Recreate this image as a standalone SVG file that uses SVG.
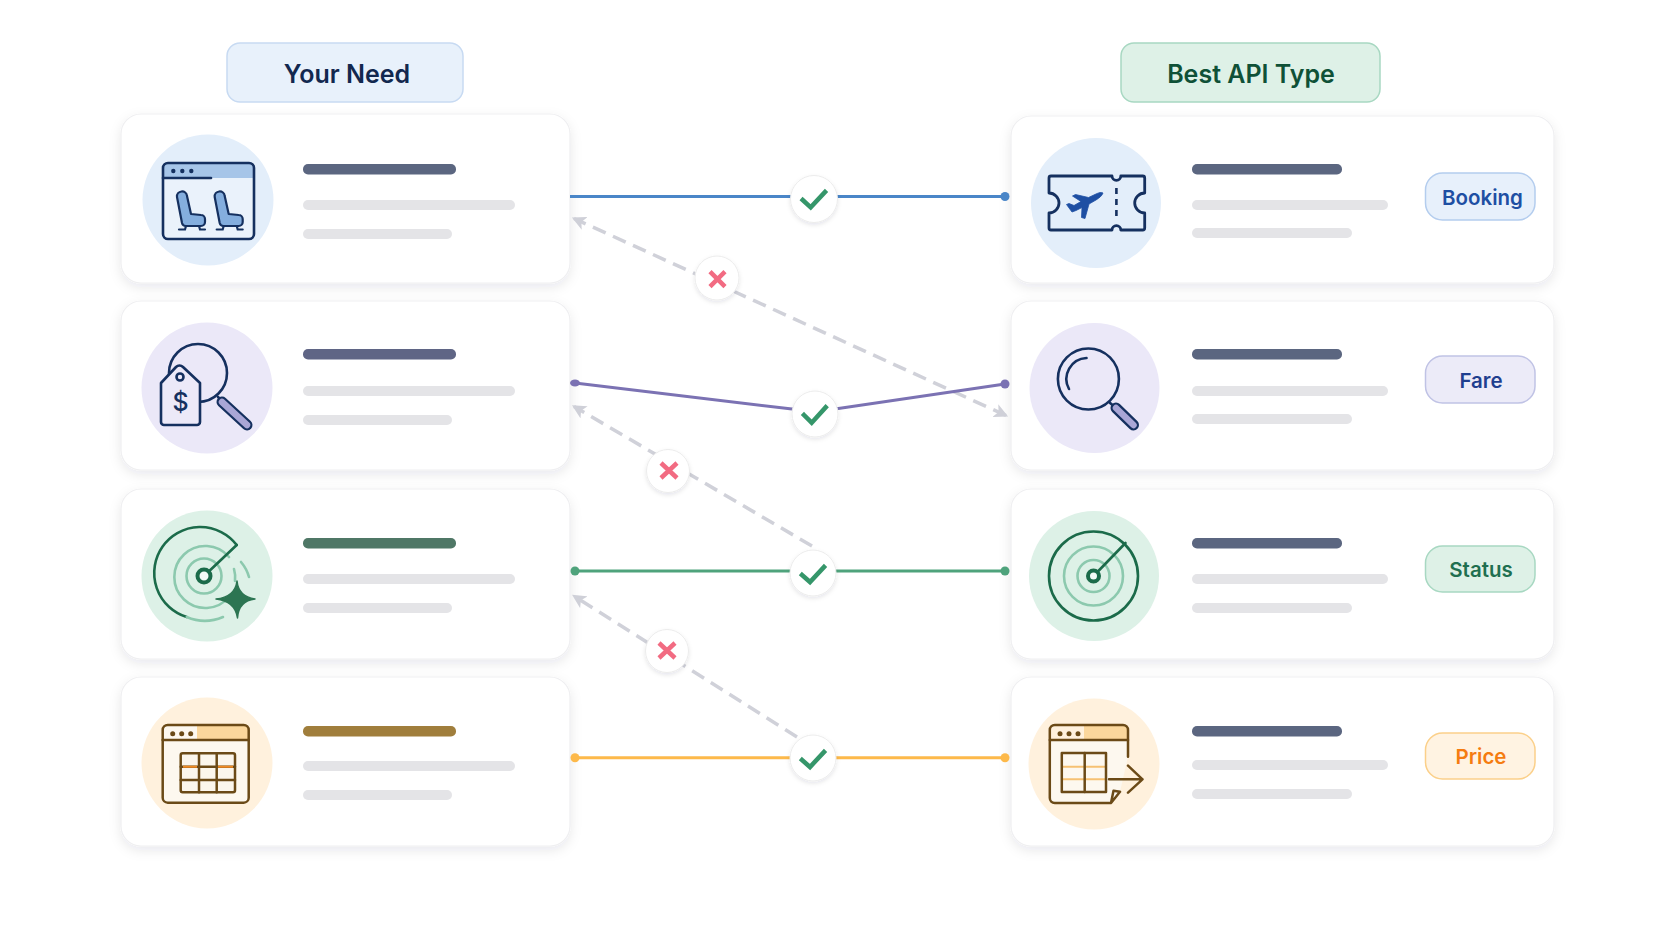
<svg xmlns="http://www.w3.org/2000/svg" width="1672" height="941" viewBox="0 0 1672 941">
<style>
text{font-family:"Inter","Liberation Sans",sans-serif;font-weight:600;text-anchor:middle}
.card{fill:#fff;stroke:#efeff1;stroke-width:1.2;filter:url(#sh)}
.hd{font-size:25px}
.bd{font-size:20.5px}
.dk{fill:#5b6680}.lt{fill:#e4e4e7}
.ln{fill:none;stroke:#15305f;stroke-width:2.6;stroke-linecap:round;stroke-linejoin:round}
.gr{fill:none;stroke:#1b6b4a;stroke-width:2.6;stroke-linecap:round}
.lg{fill:none;stroke:#8cc9ae;stroke-width:2.6;stroke-linecap:round}
.br{fill:none;stroke:#6b4a17;stroke-width:2.5;stroke-linecap:round;stroke-linejoin:round}
.dash{fill:none;stroke:#d0d1d9;stroke-width:3.5;stroke-dasharray:14 8}
.conn{fill:none;stroke-width:3}
.ok{fill:#fff;stroke:#ececec;filter:url(#sm)}
.ck{fill:none;stroke:#35966a;stroke-width:4.5;stroke-linecap:square;stroke-linejoin:miter}
.xx{fill:none;stroke:#f26b82;stroke-width:4.5}
</style>
<defs>
<filter id="sh" x="-10%" y="-15%" width="120%" height="135%"><feDropShadow dx="0" dy="4" stdDeviation="6" flood-color="#1a2440" flood-opacity="0.09"/></filter>
<filter id="sm" x="-30%" y="-30%" width="160%" height="170%"><feDropShadow dx="0" dy="2" stdDeviation="2" flood-color="#1a2440" flood-opacity="0.1"/></filter>
<marker id="ah" markerUnits="userSpaceOnUse" markerWidth="14" markerHeight="14" refX="10" refY="6" orient="auto-start-reverse" viewBox="0 0 12 12"><path d="M0 0L12 6L0 12L3 6z" fill="#cfd0d8"/></marker>
<g id="seat"><path d="M177 197a5 5 0 0 1 10-1L191 214L201 215a4 4 0 0 1 4 4v3a4 4 0 0 1-4 4h-15a4 4 0 0 1-4-3z" fill="#84aede" stroke="#15305f" stroke-width="2.2" stroke-linejoin="round"/><path d="M186 226l-1 3.500h-6M199 226l1 3.500h5" fill="none" stroke="#15305f" stroke-width="2.200" stroke-linecap="round"/></g>
</defs>
<rect width="1672" height="941" fill="#fff"/>

<g id="header-need"><rect x="227" y="43" width="236" height="59" rx="13" fill="#e8f1fb" stroke="#c7daf2" stroke-width="1.500"/><text class="hd" x="347" y="83" fill="#12284f">Your Need</text></g>
<g id="header-api"><rect x="1121" y="43" width="259" height="59" rx="13" fill="#def1e7" stroke="#a8d8c2" stroke-width="1.500"/><text class="hd" x="1251" y="83" fill="#0f5137">Best API Type</text></g>

<g id="need-seats">
<rect class="card" x="121" y="114" width="449" height="169" rx="20"/>
<circle cx="208" cy="200" r="65.500" fill="#e3eefa"/>
<rect x="163" y="163" width="91" height="76" rx="5" fill="#eaf2fb"/>
<path d="M163 178V168a5 5 0 0 1 5-5h81a5 5 0 0 1 5 5v10z" fill="#a6c5e8"/>
<rect class="ln" x="163" y="163" width="91" height="76" rx="5"/>
<path class="ln" d="M163 178H211" stroke-width="2"/>
<g fill="#15305f"><circle cx="173.300" cy="171" r="2.200"/><circle cx="182.300" cy="171" r="2.200"/><circle cx="191.300" cy="171" r="2.200"/></g>
<use href="#seat"/><use href="#seat" x="37.700"/>
<rect class="dk" x="303" y="164" width="153" height="10.500" rx="5"/><rect class="lt" x="303" y="200" width="212" height="10" rx="5"/><rect class="lt" x="303" y="229" width="149" height="10" rx="5"/>
</g>

<g id="need-fare">
<rect class="card" x="121" y="301" width="449" height="169" rx="20"/>
<circle cx="207" cy="388" r="65.500" fill="#ebe8f8"/>
<circle class="ln" cx="198" cy="373" r="29"/>
<path class="ln" d="M218 397L224 403"/>
<path d="M222 402L247 425" stroke="#15305f" stroke-width="11" stroke-linecap="round"/>
<path d="M222 402L247 425" stroke="#a9a6d6" stroke-width="6.500" stroke-linecap="round"/>
<path class="ln" d="M161 383L176 367a5 5 0 0 1 7 0L200 383V422a3 3 0 0 1-3 3H164a3 3 0 0 1-3-3z" style="fill:#ece9f8"/>
<circle class="ln" cx="180" cy="377" r="3.500" stroke-width="2"/>
<text x="180.500" y="411" font-size="25" fill="#15305f" style="font-weight:500">$</text>
<rect x="303" y="349" width="153" height="10.500" rx="5" fill="#5f6585"/><rect class="lt" x="303" y="386" width="212" height="10" rx="5"/><rect class="lt" x="303" y="415" width="149" height="10" rx="5"/>
</g>

<g id="need-status">
<rect class="card" x="121" y="489" width="449" height="170" rx="20"/>
<circle cx="207" cy="576" r="65.500" fill="#ddf1e7"/>
<path class="gr" d="M236.700 545A46 46 0 1 0 186.700 617"/>
<path class="lg" d="M186.700 617A46 46 0 0 0 223 617M241 562A40 40 0 0 1 249 577" stroke-width="2"/>
<path class="lg" d="M229 557A31 31 0 1 0 229 597"/><path class="lg" d="M234 569A31 31 0 0 1 235 581"/>
<circle class="lg" cx="204" cy="576" r="17.500"/>
<path class="gr" d="M204 576L236.700 545"/>
<circle cx="204" cy="576" r="6.500" fill="#f3faf6" stroke="#1b6b4a" stroke-width="4"/>
<path d="M237 581Q238.500 596.500 255 599Q238.500 601 237.500 618Q235 601 216 599Q235 597 237 581z" fill="#2c7552" stroke="#2c7552" stroke-width="1.500" stroke-linejoin="round"/>
<rect x="303" y="538" width="153" height="10.500" rx="5" fill="#4f7766"/><rect class="lt" x="303" y="574" width="212" height="10" rx="5"/><rect class="lt" x="303" y="603" width="149" height="10" rx="5"/>
</g>

<g id="need-price">
<rect class="card" x="121" y="677" width="449" height="169" rx="20"/>
<circle cx="207" cy="763" r="65.500" fill="#fff1dd"/>
<rect x="162.700" y="725" width="86" height="77.700" rx="5" fill="#fdf8ef"/>
<path d="M197 725h47a5 5 0 0 1 5 5v10h-52z" fill="#fbd79c"/>
<rect class="br" x="162.700" y="725" width="86" height="77.700" rx="5"/>
<path class="br" d="M162.700 740H248.700"/>
<g fill="#6b4a17"><circle cx="172.700" cy="733.700" r="2.500"/><circle cx="181.700" cy="733.700" r="2.500"/><circle cx="190.700" cy="733.700" r="2.500"/></g>
<rect x="180.700" y="753.300" width="54.300" height="39" rx="2" fill="#fbf6ec"/>
<path class="br" d="M199 753.300V792.300M216.700 753.300V792.300M180.700 780H235M180.700 766.700H235"/>
<path d="M183 766.700H197M218 766.700H233" stroke="#f08a24" stroke-width="2"/>
<rect class="br" x="180.700" y="753.300" width="54.300" height="39" rx="2"/>
<rect x="303" y="726" width="153" height="10.500" rx="5" fill="#a07e3c"/><rect class="lt" x="303" y="761" width="212" height="10" rx="5"/><rect class="lt" x="303" y="790" width="149" height="10" rx="5"/>
</g>

<g id="api-booking">
<rect class="card" x="1011" y="116" width="543" height="167" rx="20"/>
<circle cx="1096" cy="203" r="65" fill="#e3eefa"/>
<path class="ln" d="M1049 178a2 2 0 0 1 2-2H1112a4.400 4.400 0 0 0 8.800 0H1142.700a2 2 0 0 1 2 2V193a10 10 0 0 0 0 20V228a2 2 0 0 1-2 2H1120.800a4.400 4.400 0 0 0-8.800 0H1051a2 2 0 0 1-2-2V213a10 10 0 0 0 0-20z" style="stroke-width:2.800"/>
<path d="M1116.400 188V218" stroke="#15305f" stroke-width="2.600" stroke-dasharray="6 5"/>
<path d="M1103 193C1102 196 1099 198 1096 200L1089 204L1085 218.500L1081.500 217.500L1082 207.500L1076 210.500L1072 212L1066.500 204.500L1069 203.500L1074 205.500L1081 201.500L1072.500 196L1075.500 194.500L1088.500 197.500L1096 194C1099 192.500 1101.500 192 1103 193z" fill="#1e4fa3" stroke="#1e4fa3" stroke-width="0.800" stroke-linejoin="round"/>
<rect class="dk" x="1192" y="164" width="150" height="10.500" rx="5"/><rect class="lt" x="1192" y="200" width="196" height="10" rx="5"/><rect class="lt" x="1192" y="228" width="160" height="10" rx="5"/>
<rect x="1425.500" y="173" width="109.500" height="47" rx="17" fill="#e7f0fb" stroke="#b4cdee" stroke-width="1.500"/><text class="bd" x="1482.500" y="205" fill="#1e4fa3">Booking</text>
</g>

<g id="api-fare">
<rect class="card" x="1011" y="301" width="543" height="169" rx="20"/>
<circle cx="1094.500" cy="388" r="65" fill="#ebe8f8"/>
<circle class="ln" cx="1088.400" cy="379" r="30.500"/>
<path class="ln" d="M1086.500 358A21 21 0 0 0 1069 389" stroke="#3f5278"/>
<path class="ln" d="M1109.800 402.700L1116 408"/>
<path d="M1116 408L1133.500 425" stroke="#15305f" stroke-width="11" stroke-linecap="round"/>
<path d="M1116 408L1133.500 425" stroke="#a9a6d6" stroke-width="6.500" stroke-linecap="round"/>
<rect class="dk" x="1192" y="349" width="150" height="10.500" rx="5"/><rect class="lt" x="1192" y="386" width="196" height="10" rx="5"/><rect class="lt" x="1192" y="414" width="160" height="10" rx="5"/>
<rect x="1425.500" y="356" width="109.500" height="47" rx="17" fill="#ecebf8" stroke="#c0c3e5" stroke-width="1.500"/><text class="bd" x="1481" y="388" fill="#1f3f8f">Fare</text>
</g>

<g id="api-status">
<rect class="card" x="1011" y="489" width="543" height="170" rx="20"/>
<circle cx="1094" cy="576" r="65" fill="#ddf1e7"/>
<circle class="gr" cx="1093.500" cy="576" r="44.500"/>
<circle class="lg" cx="1093.500" cy="576" r="29.500"/>
<circle class="lg" cx="1093.500" cy="576" r="16"/>
<path class="gr" d="M1093.500 576L1125.500 543"/>
<circle cx="1093.500" cy="576" r="5.500" fill="#f3faf6" stroke="#1b6b4a" stroke-width="4"/>
<rect class="dk" x="1192" y="538" width="150" height="10.500" rx="5"/><rect class="lt" x="1192" y="574" width="196" height="10" rx="5"/><rect class="lt" x="1192" y="603" width="160" height="10" rx="5"/>
<rect x="1425.500" y="546" width="109.500" height="46" rx="17" fill="#def1e7" stroke="#a8d8c2" stroke-width="1.500"/><text class="bd" x="1481" y="577" fill="#1f6f50">Status</text>
</g>

<g id="api-price">
<rect class="card" x="1011" y="677" width="543" height="169" rx="20"/>
<circle cx="1094" cy="764" r="65.500" fill="#fff1dd"/>
<path d="M1049.800 740V798a5 5 0 0 0 5 5H1111L1120 791.700L1128 756.700V740z" fill="#fdf8ef"/>
<path d="M1084 725H1123a5 5 0 0 1 5 5v10H1084z" fill="#fbd79c"/>
<path class="br" d="M1128 756.700V730a5 5 0 0 0-5-5H1054.800a5 5 0 0 0-5 5V798a5 5 0 0 0 5 5H1111L1120 791.700L1113.500 790.700L1111 803"/>
<path class="br" d="M1049.800 740H1128"/>
<g fill="#6b4a17"><circle cx="1060" cy="733.700" r="2.500"/><circle cx="1069" cy="733.700" r="2.500"/><circle cx="1078" cy="733.700" r="2.500"/></g>
<path d="M1063 766.700H1105M1063 779.300H1105" stroke="#f6c173" stroke-width="2"/>
<rect class="br" x="1061.800" y="753" width="44.200" height="39"/>
<path class="br" d="M1084.700 753V792M1109 779.300H1142.500M1128 765.700L1142.500 779.300L1128 792.700"/>
<rect class="dk" x="1192" y="726" width="150" height="10.500" rx="5"/><rect class="lt" x="1192" y="760" width="196" height="10" rx="5"/><rect class="lt" x="1192" y="789" width="160" height="10" rx="5"/>
<rect x="1425.500" y="733" width="109.500" height="46" rx="17" fill="#fff3e2" stroke="#fbd08a" stroke-width="1.500"/><text class="bd" x="1481" y="764" fill="#f57c10">Price</text>
</g>

<g id="connectors">
<path class="dash" d="M1006 415.500L574 218.500" marker-start="url(#ah)" marker-end="url(#ah)"/>
<path class="dash" d="M812 546L574 406.500" marker-end="url(#ah)"/>
<path class="dash" d="M797 737L574 596" marker-end="url(#ah)"/>
<path class="conn" stroke="#4a86c8" d="M570 196.500H1005"/>
<circle cx="1005" cy="196.500" r="4.500" fill="#4a86c8"/>
<path class="conn" stroke="#7b72b3" d="M575 383L792 409L835 409L1005 384"/>
<ellipse cx="575" cy="383" rx="5" ry="3.500" fill="#7b72b3"/><circle cx="1005" cy="384" r="4.500" fill="#7b72b3"/>
<path class="conn" stroke="#4fa37c" d="M575 571H1005"/>
<circle cx="575" cy="571" r="4.500" fill="#4fa37c"/><circle cx="1005" cy="571" r="4.500" fill="#4fa37c"/>
<path class="conn" stroke="#fdb94a" d="M575 757.700H1005"/>
<circle cx="575" cy="757.700" r="4.500" fill="#fdb94a"/><circle cx="1005" cy="757.700" r="4.500" fill="#fdb94a"/>
</g>

<g id="mark-check-1"><circle class="ok" cx="814" cy="199" r="23.500"/><path class="ck" d="M802.700 200L810.700 207.300L825 192"/></g>
<g id="mark-check-2"><circle class="ok" cx="815" cy="414" r="23"/><path class="ck" d="M804 415L811.700 422.700L825.700 407.300"/></g>
<g id="mark-check-3"><circle class="ok" cx="813" cy="573" r="23"/><path class="ck" d="M802 575L810 582L824 567"/></g>
<g id="mark-check-4"><circle class="ok" cx="813" cy="758" r="23"/><path class="ck" d="M802 760L810 767L824 752"/></g>
<g id="mark-x-1"><circle class="ok" cx="717" cy="278" r="22"/><path class="xx" d="M710 271.700L725 286.700M725 271.700L710 286.700"/></g>
<g id="mark-x-2"><circle class="ok" cx="668" cy="471" r="21.500"/><path class="xx" d="M661 463L677 478M677 463L661 478"/></g>
<g id="mark-x-3"><circle class="ok" cx="667" cy="651" r="21.500"/><path class="xx" d="M659 643L675 658M675 643L659 658"/></g>
</svg>
